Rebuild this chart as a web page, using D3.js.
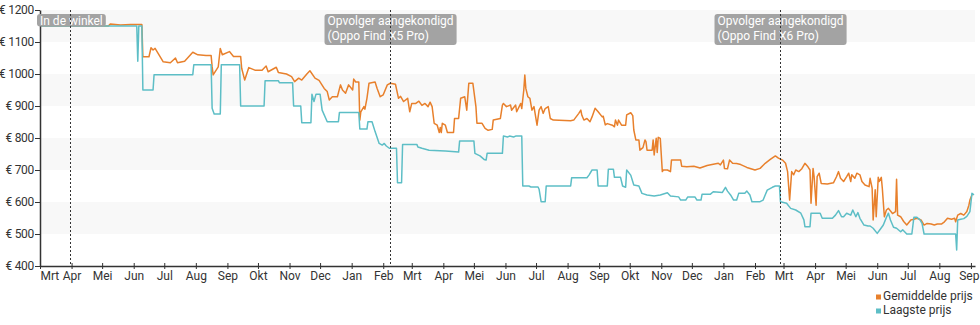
<!DOCTYPE html>
<html>
<head>
<meta charset="utf-8">
<script src="https://cdn.jsdelivr.net/npm/d3@7"></script>
<style>
  html, body { margin: 0; padding: 0; background: #fff; }
  svg { display: block; font-family: Roboto, "Noto Sans", Arial, sans-serif; }
</style>
</head>
<body>
<svg id="chart" width="980" height="325"></svg>
<script>
// Price history, Oppo Find X3 Pro (days counted from the first day on the axis)
const startDate = "2021-03-01";
const endDate = "2023-09-05";
const monthNames = ["Jan", "Feb", "Mrt", "Apr", "Mei", "Jun", "Jul", "Aug", "Sep", "Okt", "Nov", "Dec"];
const priceTicks = [400, 500, 600, 700, 800, 900, 1000, 1100, 1200];
const bandRanges = [[1100, 1200], [900, 1000], [700, 800], [500, 600]];

const seriesNames = ["Gemiddelde prijs", "Laagste prijs"];
const seriesColors = ["#e8802c", "#5dbec6"];

// Average price
const avgDay = [0, 67, 69, 79, 89, 100, 101, 107, 109, 111, 113, 121, 128, 133, 135, 142, 150, 155, 163, 168, 169, 170, 175, 177, 179, 186, 190, 197, 198, 201, 205, 211, 218, 222, 224, 232, 234, 242, 247, 250, 254, 257, 262, 265, 270, 274, 279, 282, 284, 287, 292, 295, 297, 300, 303, 307, 308, 310, 313, 314, 315, 318, 319, 321, 323, 329, 331, 334, 337, 341, 344, 349, 352, 354, 357, 361, 363, 365, 369, 372, 375, 378, 381, 383, 385, 387, 390, 392, 393, 394, 395, 398, 400, 406, 407, 411, 413, 417, 419, 421, 425, 428, 429, 434, 437, 440, 444, 445, 452, 454, 455, 458, 462, 463, 467, 468, 472, 473, 475, 476, 477, 479, 481, 483, 485, 488, 490, 492, 494, 496, 499, 501, 504, 521, 524, 529, 531, 532, 534, 537, 540, 542, 545, 548, 552, 553, 555, 557, 562, 564, 565, 567, 568, 571, 575, 576, 580, 582, 583, 585, 588, 589, 592, 594, 595, 596, 601, 602, 603, 605, 606, 607, 609, 611, 612, 616, 619, 620, 629, 630, 635, 642, 648, 655, 661, 666, 668, 671, 672, 675, 677, 680, 684, 688, 694, 702, 707, 712, 717, 722, 725, 729, 732, 734, 736, 738, 740, 742, 745, 748, 751, 754, 756, 757, 759, 760, 762, 763, 765, 767, 773, 779, 782, 784, 786, 789, 792, 794, 796, 797, 800, 802, 805, 807, 810, 814, 815, 817, 818, 820, 821, 823, 824, 826, 827, 829, 831, 833, 837, 840, 841, 842, 845, 848, 851, 855, 858, 861, 865, 868, 871, 875, 878, 881, 885, 888, 891, 895, 898, 899, 901, 904, 907, 910, 912, 913, 915];
const avgPrice = [1150, 1150, 1156, 1153, 1155, 1155, 1054, 1054, 1082, 1075, 1080, 1038, 1035, 1050, 1035, 1040, 1068, 1060, 1058, 1058, 1023, 997, 1022, 1080, 1060, 1070, 1055, 1055, 1018, 981, 1020, 1012, 1012, 1025, 1007, 1021, 1005, 1000, 992, 976, 987, 981, 1000, 1010, 987, 980, 955, 945, 919, 929, 929, 966, 950, 940, 966, 950, 984, 975, 975, 856, 882, 898, 890, 924, 971, 975, 955, 929, 935, 966, 971, 968, 924, 930, 914, 924, 882, 908, 908, 915, 902, 908, 898, 912, 898, 846, 840, 817, 833, 817, 846, 840, 817, 817, 861, 861, 924, 929, 887, 971, 971, 898, 846, 846, 830, 824, 827, 856, 861, 903, 908, 898, 903, 887, 903, 882, 908, 892, 950, 997, 955, 929, 924, 887, 898, 840, 887, 898, 877, 892, 898, 861, 856, 854, 856, 877, 887, 871, 856, 861, 851, 866, 893, 882, 866, 868, 841, 845, 840, 835, 856, 840, 856, 840, 840, 872, 879, 870, 825, 794, 794, 762, 770, 794, 788, 762, 762, 794, 747, 799, 755, 802, 799, 695, 700, 700, 695, 731, 731, 712, 710, 712, 706, 714, 718, 721, 716, 731, 705, 704, 731, 721, 720, 717, 708, 700, 705, 721, 733, 744, 737, 731, 721, 695, 606, 695, 685, 700, 695, 704, 721, 710, 700, 596, 705, 680, 590, 679, 690, 658, 656, 660, 679, 695, 674, 664, 679, 690, 664, 685, 674, 690, 685, 664, 653, 648, 674, 643, 544, 638, 554, 677, 664, 677, 643, 554, 575, 580, 564, 570, 671, 559, 554, 539, 528, 544, 546, 549, 544, 528, 533, 531, 528, 531, 531, 538, 549, 546, 549, 538, 559, 564, 559, 570, 590, 606, 622];

// Lowest price
const lowDay = [0, 95, 96, 97, 100, 101, 111, 112, 150, 151, 168, 169, 171, 177, 178, 196, 197, 220, 221, 234, 235, 248, 249, 256, 257, 266, 267, 269, 271, 275, 277, 282, 293, 294, 313, 314, 321, 322, 326, 329, 333, 336, 338, 340, 343, 350, 351, 355, 356, 370, 371, 375, 382, 398, 411, 412, 426, 427, 432, 436, 438, 439, 454, 455, 459, 461, 465, 467, 473, 474, 480, 482, 489, 490, 492, 496, 497, 521, 522, 537, 539, 542, 547, 548, 557, 558, 563, 564, 570, 572, 575, 576, 580, 583, 588, 591, 596, 603, 609, 616, 619, 627, 629, 634, 636, 643, 645, 649, 650, 658, 661, 670, 673, 675, 678, 681, 684, 686, 692, 694, 697, 699, 707, 710, 712, 714, 719, 722, 726, 727, 733, 737, 742, 747, 750, 751, 756, 757, 766, 768, 778, 781, 784, 787, 789, 792, 796, 798, 801, 803, 805, 809, 813, 815, 818, 822, 825, 828, 831, 833, 835, 838, 841, 845, 847, 851, 856, 858, 861, 864, 866, 868, 899, 900, 901, 904, 907, 910, 913, 915, 917];
const lowPrice = [1150, 1150, 1040, 1150, 1150, 950, 950, 998, 998, 1029, 1029, 893, 875, 875, 1029, 1029, 900, 900, 979, 979, 973, 973, 900, 900, 848, 848, 937, 914, 937, 937, 887, 851, 851, 880, 880, 828, 828, 851, 851, 820, 783, 778, 783, 775, 768, 768, 660, 660, 780, 780, 772, 768, 762, 759, 756, 791, 791, 752, 744, 733, 731, 752, 752, 806, 803, 806, 803, 806, 806, 650, 650, 647, 647, 640, 601, 601, 650, 650, 676, 676, 684, 700, 700, 650, 650, 702, 702, 677, 677, 650, 646, 700, 684, 653, 650, 627, 622, 619, 622, 629, 619, 616, 606, 606, 616, 616, 606, 606, 624, 624, 632, 630, 646, 634, 622, 606, 606, 627, 627, 634, 622, 601, 601, 606, 622, 637, 646, 650, 650, 601, 596, 580, 575, 565, 544, 523, 523, 565, 565, 549, 549, 559, 573, 554, 554, 565, 559, 575, 554, 567, 549, 528, 525, 525, 518, 502, 515, 528, 552, 565, 544, 521, 518, 507, 513, 500, 500, 552, 552, 544, 533, 500, 500, 450, 544, 546, 548, 555, 570, 627, 622];

// Events marked on the timeline
const eventDates = ["2021-03-30", "2022-02-08", "2023-02-26"];
const eventLabels = [
  ["In de winkel"],
  ["Opvolger aangekondigd", "(Oppo Find X5 Pro)"],
  ["Opvolger aangekondigd", "(Oppo Find X6 Pro)"]
];

const parse = d3.timeParse("%Y-%m-%d");
const t0 = parse(startDate);
const t1 = parse(endDate);

const svg = d3.select("#chart");
const plotLeft = 40, plotRight = 975, plotTop = 10, plotBottom = 266;

const x = d3.scaleTime().domain([t0, t1]).range([plotLeft, plotRight]);
const y = d3.scaleLinear().domain([400, 1200]).range([plotBottom, plotTop]);

// Alternating background bands
svg.append("g")
  .selectAll("rect")
  .data(bandRanges)
  .join("rect")
  .attr("x", plotLeft)
  .attr("width", plotRight - plotLeft)
  .attr("y", d => y(d[1]))
  .attr("height", d => y(d[0]) - y(d[1]))
  .attr("fill", "#f8f8f8");

// Series
const toPoints = (days, prices) => days.map((d, i) => ({ date: d3.timeDay.offset(t0, d), v: prices[i] }));
const series = [toPoints(avgDay, avgPrice), toPoints(lowDay, lowPrice)];

const line = d3.line().x(d => x(d.date)).y(d => y(d.v));

svg.append("g")
  .selectAll("path")
  .data(series)
  .join("path")
  .attr("d", line)
  .attr("fill", "none")
  .attr("stroke", (d, i) => seriesColors[i])
  .attr("stroke-width", 1.5)
  .attr("stroke-linejoin", "round");

// X axis
const monthTicks = d3.timeMonth.range(t0, d3.timeDay.offset(t1, 1));
const gx = svg.append("g")
  .attr("transform", `translate(0,${plotBottom})`)
  .call(d3.axisBottom(x)
    .tickValues(monthTicks)
    .tickFormat(d => monthNames[d.getMonth()])
    .tickSizeInner(3)
    .tickSizeOuter(0)
    .tickPadding(2));
gx.select(".domain").attr("stroke", "#333").attr("stroke-width", 1.5);
gx.selectAll(".tick line").attr("y1", -3).attr("y2", 3).attr("stroke", "#333");
const lastTick = monthTicks.length - 1;
gx.selectAll(".tick text")
  .attr("font-size", 12)
  .attr("font-family", "Roboto, sans-serif")
  .attr("fill", "#333")
  .attr("text-anchor", (d, i) => i === 0 ? "start" : (i === lastTick ? "end" : "middle"))
  .attr("dx", (d, i) => i === lastTick ? 8 : 0);

// Y axis
const gy = svg.append("g")
  .attr("transform", `translate(${plotLeft},0)`)
  .call(d3.axisLeft(y)
    .tickValues(priceTicks)
    .tickFormat(v => "€ " + v)
    .tickSizeInner(5)
    .tickSizeOuter(0)
    .tickPadding(1));
gy.select(".domain").attr("stroke", "#333").attr("stroke-width", 1.5);
gy.selectAll(".tick line").attr("stroke", "#333");
gy.selectAll(".tick text")
  .attr("font-size", 12)
  .attr("font-family", "Roboto, sans-serif")
  .attr("letter-spacing", "-0.3px")
  .attr("fill", "#333");

// Event annotations
const events = eventDates.map((d, i) => ({ date: parse(d), lines: eventLabels[i] }));
const ev = svg.append("g").selectAll("g").data(events).join("g");

ev.each(function (d) {
  const g = d3.select(this);
  const vx = Math.round(x(d.date)) + 0.5;
  const bx = Math.max(vx - 66, plotLeft - 3);
  const rect = g.append("rect")
    .attr("x", bx)
    .attr("y", 14)
    .attr("rx", 3)
    .attr("fill", "#a3a3a3");
  const txt = g.append("text")
    .attr("font-size", 12)
    .attr("fill", "#fff");
  d.lines.forEach((s, k) => {
    txt.append("tspan").attr("x", bx + 3).attr("y", 24.5 + k * 15.5).text(s);
  });
  const w = txt.node().getBBox().width;
  rect.attr("width", w + 6).attr("height", 18.5 * d.lines.length - 6);
  g.append("line")
    .attr("x1", vx).attr("x2", vx)
    .attr("y1", plotTop).attr("y2", plotBottom)
    .attr("stroke", "#333")
    .attr("stroke-width", 1)
    .attr("stroke-dasharray", "2,2");
});

// Legend
const legend = svg.append("g").attr("transform", "translate(876,294.5)");
seriesNames.forEach((name, i) => {
  legend.append("rect")
    .attr("x", 0).attr("y", i * 14)
    .attr("width", 5).attr("height", 5)
    .attr("fill", seriesColors[i]);
  legend.append("text")
    .attr("x", 7).attr("y", i * 14 + 5.5)
    .attr("font-size", 12)
    .attr("fill", "#333")
    .text(name);
});
</script>
</body>
</html>
